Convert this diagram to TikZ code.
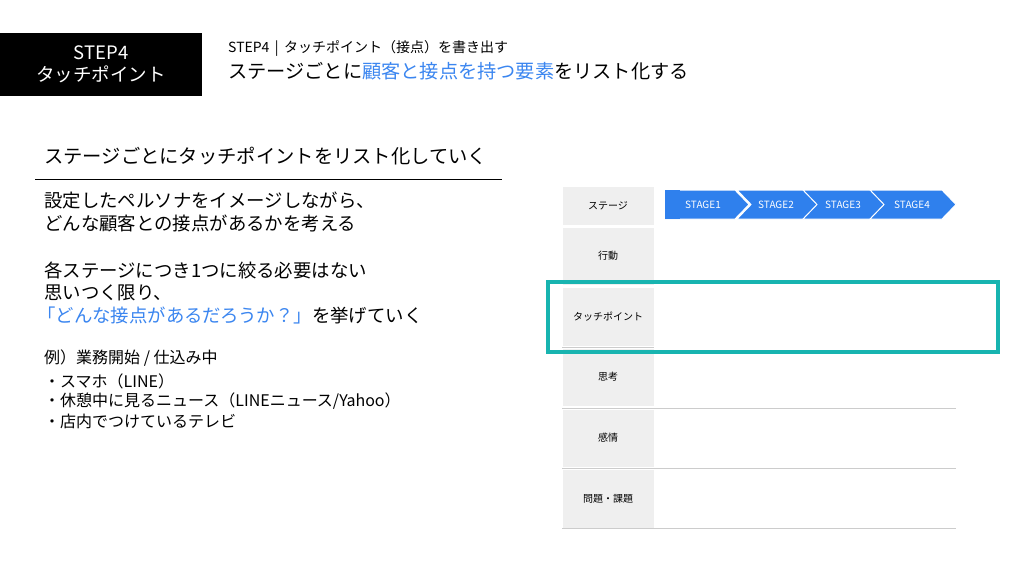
\documentclass[tikz,border=0pt]{standalone}
\usepackage{fontspec}
\setmainfont{Noto Sans CJK JP}
\definecolor{hl}{HTML}{3B86F0}
\definecolor{chev}{HTML}{2F80ED}
\definecolor{teal1}{HTML}{18B4B0}
\definecolor{cellg}{HTML}{EFEFEF}
\begin{document}
\begin{tikzpicture}[x=1pt,y=-1pt,
  txt/.style={anchor=west,inner sep=0pt,font=\fontsize{18.4}{20}\selectfont},
  small/.style={anchor=west,inner sep=0pt,font=\fontsize{16}{17}\selectfont},
  cell/.style={fill=cellg,draw=white,line width=1pt,inner sep=0pt,font=\fontsize{10}{12}\selectfont},
  chv/.style={fill=chev,draw=white,line width=1pt}]
\useasboundingbox (0,0) rectangle (1024,576);
\fill[white] (0,0) rectangle (1024,576);
\fill[black] (0,33) rectangle (202,96);
\node[white,align=center,font=\fontsize{18.5}{22}\selectfont] (t) at (101,64) {STEP4\\タッチポイント};
\node[anchor=west,inner sep=0pt,font=\fontsize{14}{14}\selectfont] (s1) at (228,48) {STEP4 \,|\, タッチポイント（接点）を書き出す};
\node[anchor=west,inner sep=0pt,font=\fontsize{19.2}{20}\selectfont] (s2) at (228,71) {ステージごとに\textcolor{hl}{顧客と接点を持つ要素}をリスト化する};
\node[txt,font=\fontsize{19.3}{20}\selectfont] (h) at (44,156) {ステージごとにタッチポイントをリスト化していく};
\draw[line width=1pt] (35,179) -- (502,179);
\node[txt] (b1) at (44,200) {設定したペルソナをイメージしながら、};
\node[txt] (b2) at (44,223) {どんな顧客との接点があるかを考える};
\node[txt] (b3) at (44,270) {各ステージにつき1つに絞る必要はない};
\node[txt] (b4) at (44,293) {思いつく限り、};
\node[txt,text=hl] (b5) at (37,316) {「どんな接点があるだろうか？」\textcolor{black}{を挙げていく}};
\node[small] (e1) at (44,358) {例）業務開始 / 仕込み中};
\node[small] (e2) at (44,381) {・スマホ（LINE）};
\node[small] (e3) at (44,401) {・休憩中に見るニュース（LINEニュース/Yahoo）};
\node[small] (e4) at (44,421) {・店内でつけているテレビ};
% table
\foreach \a/\b/\t in {186/225/ステージ,227/285/行動,287/346/タッチポイント,348/406/思考,409/467/感情,469/528/問題・課題}{
  \path[cell] (562,\a) rectangle (654,\b);
  \node[inner sep=0pt,font=\fontsize{10}{12}\selectfont] at (608,{(\a+\b)/2}) {\t};
}
\foreach \y in {408,468,528} \draw[gray!40,line width=0.6pt] (562,\y) -- (956,\y);
\draw[gray!40,line width=0.6pt] (562,347) -- (654,347);
% chevrons
\foreach \xa/\xb/\t in {665/735/STAGE1,737/805/STAGE2,803/872/STAGE3,870/942/STAGE4}{
  \path[chv] (\xa,190) -- (\xb,190) -- (\xb+14,204.5) -- (\xb,219) -- (\xa,219) -- (\xa+14,204.5) -- cycle;
}
\path[chev,fill=chev] (665,190) rectangle (680,219);
\foreach \x/\t in {703/STAGE1,776/STAGE2,843/STAGE3,912/STAGE4}
  \node[white,inner sep=0pt,font=\fontsize{10}{12}\selectfont] at (\x,204.5) {\t};
\draw[teal1,line width=3.5pt] (548,282) rectangle (998,352);
\end{tikzpicture}
\end{document}
